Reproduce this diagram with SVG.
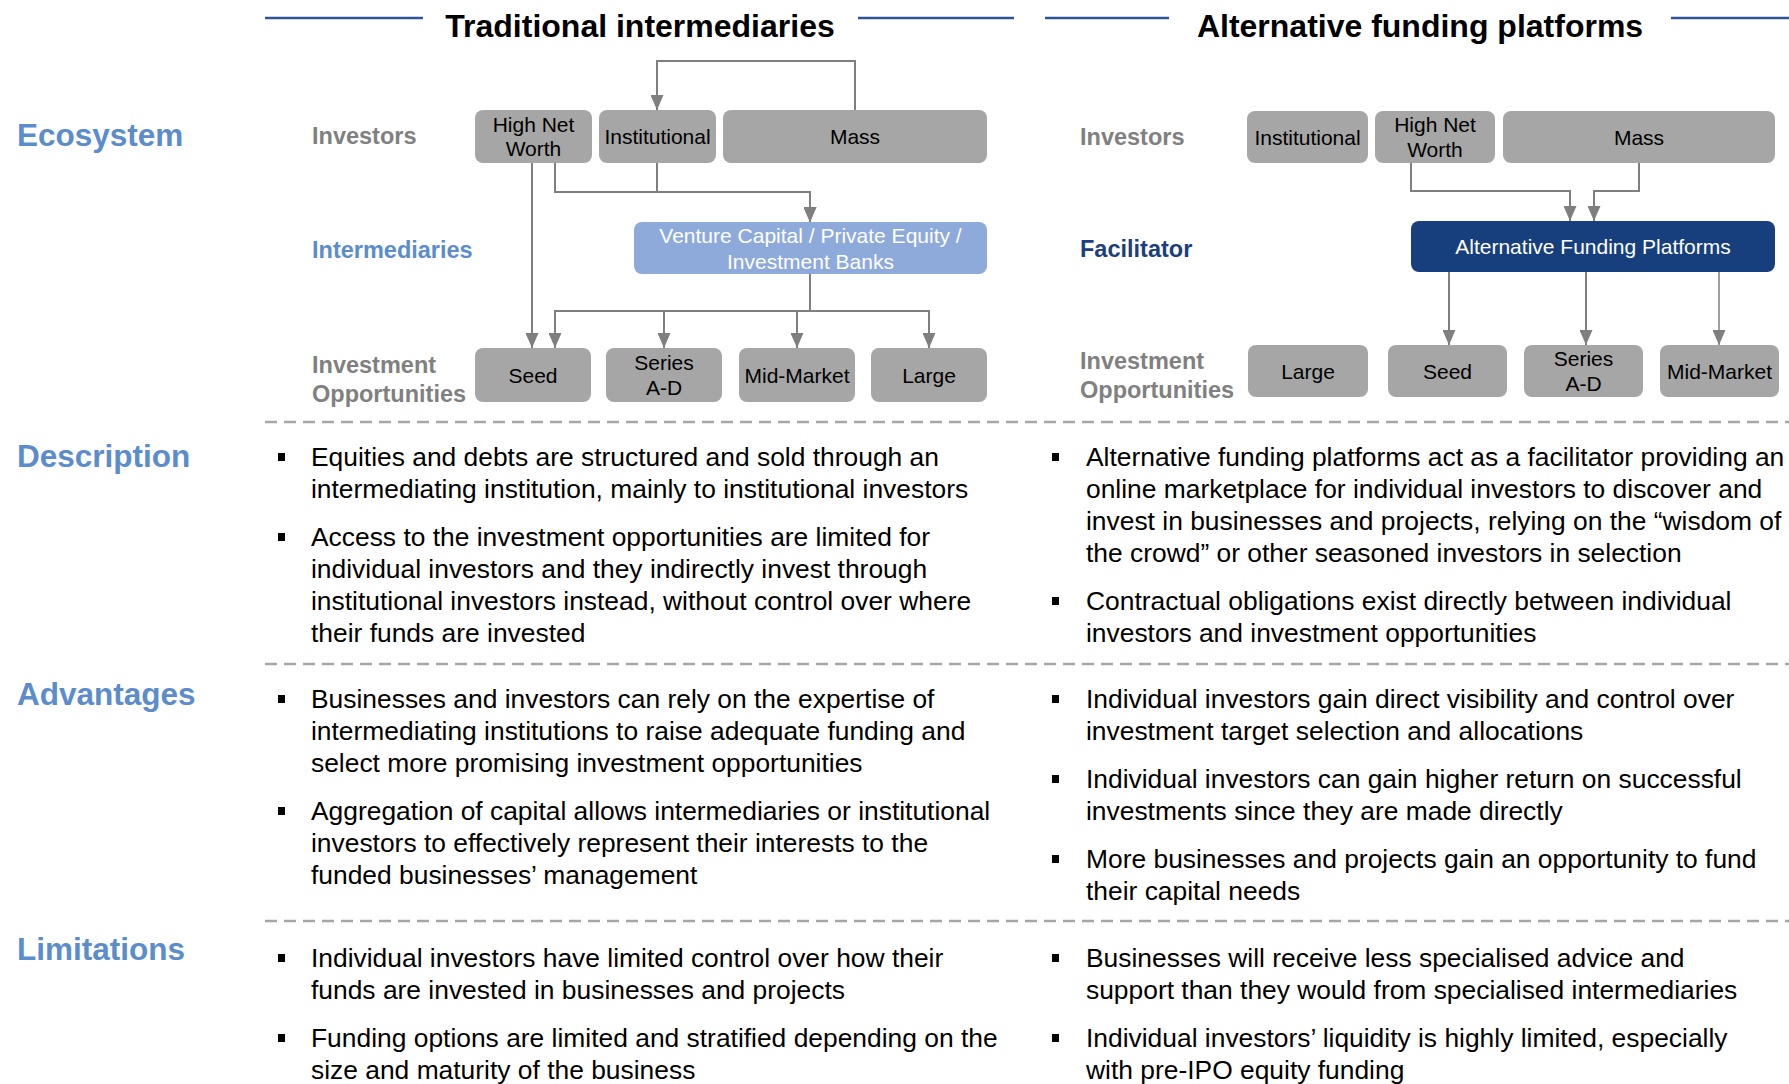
<svg xmlns="http://www.w3.org/2000/svg" width="1789" height="1084" viewBox="0 0 1789 1084">
<style>
  .title{font-family:"Liberation Sans",Arial,sans-serif;font-weight:bold;font-size:32px;fill:#000;text-anchor:middle}
  .sec{font-family:"Liberation Sans",Arial,sans-serif;font-weight:bold;font-size:31.5px;fill:#5B8CCB}
  .lab{font-family:"Liberation Sans",Arial,sans-serif;font-weight:bold;font-size:23.5px;fill:#808080}
  .labb{font-family:"Liberation Sans",Arial,sans-serif;font-weight:bold;font-size:23.5px;fill:#5B8CCB}
  .labd{font-family:"Liberation Sans",Arial,sans-serif;font-weight:bold;font-size:23.5px;fill:#1B3F7E}
  .box{fill:#A6A6A6}
  .bt{font-family:"Liberation Sans",Arial,sans-serif;font-size:21px;fill:#000;text-anchor:middle}
  .btw{font-family:"Liberation Sans",Arial,sans-serif;font-size:21px;fill:#fff;text-anchor:middle}
  .body{font-family:"Liberation Sans",Arial,sans-serif;font-size:26.4px;fill:#000}
  .blt{fill:#000}
  .conn{fill:none;stroke:#7F7F7F;stroke-width:2;marker-end:url(#arr)}
  .dash{stroke:#A6A6A6;stroke-width:2.5;stroke-dasharray:12 7}
  .hl{stroke:#2F5597;stroke-width:2.5}
</style>
<defs>
  <marker id="arr" markerUnits="userSpaceOnUse" markerWidth="15" markerHeight="13" refX="15" refY="6.5" orient="auto">
    <path d="M0,0 L15,6.5 L0,13 z" fill="#7F7F7F"/>
  </marker>
</defs>
<rect width="1789" height="1084" fill="#fff"/>

<!-- column headers -->
<g id="header-traditional">
  <line class="hl" x1="265" y1="18" x2="423" y2="18"/>
  <line class="hl" x1="858" y1="18" x2="1014" y2="18"/>
  <text class="title" x="640" y="37">Traditional intermediaries</text>
</g>
<g id="header-alternative">
  <line class="hl" x1="1045" y1="18" x2="1169" y2="18"/>
  <line class="hl" x1="1671" y1="18" x2="1789" y2="18"/>
  <text class="title" x="1420" y="37">Alternative funding platforms</text>
</g>

<!-- section headings -->
<g id="sections">
  <text class="sec" x="17" y="146">Ecosystem</text>
  <text class="sec" x="17" y="467">Description</text>
  <text class="sec" x="17" y="705">Advantages</text>
  <text class="sec" x="17" y="960">Limitations</text>
</g>

<!-- row labels -->
<g id="row-labels-left">
  <text class="lab" x="312" y="144">Investors</text>
  <text class="labb" x="312" y="258">Intermediaries</text>
  <text class="lab" x="312" y="373">Investment</text>
  <text class="lab" x="312" y="402">Opportunities</text>
</g>
<g id="row-labels-right">
  <text class="lab" x="1080" y="145">Investors</text>
  <text class="labd" x="1080" y="257">Facilitator</text>
  <text class="lab" x="1080" y="369">Investment</text>
  <text class="lab" x="1080" y="398">Opportunities</text>
</g>

<!-- connectors -->
<g id="connectors">
  <path class="conn" d="M855,110 V61 H657 V110"/>
  <path class="conn" d="M532,163 V348"/>
  <path class="conn" d="M555,163 V192 H810 V222"/>
  <path class="conn" d="M657,163 V192 H810 V222"/>
  <path class="conn" d="M810,274 V311 H555 V348"/>
  <path class="conn" d="M810,274 V311 H664 V348"/>
  <path class="conn" d="M810,274 V311 H797 V348"/>
  <path class="conn" d="M810,274 V311 H929 V348"/>
  <path class="conn" d="M1411,163 V191 H1570 V221"/>
  <path class="conn" d="M1639,163 V191 H1594 V221"/>
  <path class="conn" d="M1449,272 V345"/>
  <path class="conn" d="M1586,272 V345"/>
  <path class="conn" d="M1719,272 V345" style="stroke-width:1.5"/>
</g>

<!-- traditional nodes -->
<g id="t-hnw"><rect class="box" x="475" y="110" width="117" height="53" rx="8"/><text class="bt" x="533.5" y="132">High Net</text><text class="bt" x="533.5" y="156">Worth</text></g>
<g id="t-inst"><rect class="box" x="599" y="110" width="117" height="53" rx="8"/><text class="bt" x="657.5" y="144">Institutional</text></g>
<g id="t-mass"><rect class="box" x="723" y="110" width="264" height="53" rx="8"/><text class="bt" x="855" y="144">Mass</text></g>
<g id="t-vc"><rect x="634" y="222" width="353" height="52" rx="8" fill="#8EAADB"/><text class="btw" x="810.5" y="243">Venture Capital / Private Equity /</text><text class="btw" x="810.5" y="269">Investment Banks</text></g>
<g id="t-seed"><rect class="box" x="475" y="348" width="116" height="54" rx="8"/><text class="bt" x="533" y="383">Seed</text></g>
<g id="t-series"><rect class="box" x="606" y="348" width="116" height="54" rx="8"/><text class="bt" x="664" y="370">Series</text><text class="bt" x="664" y="395">A-D</text></g>
<g id="t-mid"><rect class="box" x="739" y="348" width="116" height="54" rx="8"/><text class="bt" x="797" y="383">Mid-Market</text></g>
<g id="t-large"><rect class="box" x="871" y="348" width="116" height="54" rx="8"/><text class="bt" x="929" y="383">Large</text></g>

<!-- alternative nodes -->
<g id="a-inst"><rect class="box" x="1247" y="111" width="121" height="52" rx="8"/><text class="bt" x="1307.5" y="145">Institutional</text></g>
<g id="a-hnw"><rect class="box" x="1375" y="111" width="120" height="52" rx="8"/><text class="bt" x="1435" y="132">High Net</text><text class="bt" x="1435" y="157">Worth</text></g>
<g id="a-mass"><rect class="box" x="1503" y="111" width="272" height="52" rx="8"/><text class="bt" x="1639" y="145">Mass</text></g>
<g id="a-afp"><rect x="1411" y="221" width="364" height="51" rx="8" fill="#173F7D"/><text class="btw" x="1593" y="254">Alternative Funding Platforms</text></g>
<g id="a-large"><rect class="box" x="1248" y="345" width="120" height="52" rx="8"/><text class="bt" x="1308" y="379">Large</text></g>
<g id="a-seed"><rect class="box" x="1388" y="345" width="119" height="52" rx="8"/><text class="bt" x="1447.5" y="379">Seed</text></g>
<g id="a-series"><rect class="box" x="1524" y="345" width="119" height="52" rx="8"/><text class="bt" x="1583.5" y="366">Series</text><text class="bt" x="1583.5" y="391">A-D</text></g>
<g id="a-mid"><rect class="box" x="1660" y="345" width="119" height="52" rx="8"/><text class="bt" x="1719.5" y="379">Mid-Market</text></g>

<!-- separators -->
<g id="separators">
  <line class="dash" x1="265" y1="422" x2="1789" y2="422"/>
  <line class="dash" x1="265" y1="664" x2="1789" y2="664"/>
  <line class="dash" x1="265" y1="921" x2="1789" y2="921"/>
</g>

<!-- description -->
<g id="desc-left">
  <rect class="blt" x="278" y="453" width="7" height="8"/>
  <text class="body" x="311" y="466">Equities and debts are structured and sold through an</text>
  <text class="body" x="311" y="498">intermediating institution, mainly to institutional investors</text>
  <rect class="blt" x="278" y="533" width="7" height="8"/>
  <text class="body" x="311" y="546">Access to the investment opportunities are limited for</text>
  <text class="body" x="311" y="578">individual investors and they indirectly invest through</text>
  <text class="body" x="311" y="610">institutional investors instead, without control over where</text>
  <text class="body" x="311" y="642">their funds are invested</text>
</g>
<g id="desc-right">
  <rect class="blt" x="1052" y="453" width="7" height="8"/>
  <text class="body" x="1086" y="466">Alternative funding platforms act as a facilitator providing an</text>
  <text class="body" x="1086" y="498">online marketplace for individual investors to discover and</text>
  <text class="body" x="1086" y="530">invest in businesses and projects, relying on the “wisdom of</text>
  <text class="body" x="1086" y="562">the crowd” or other seasoned investors in selection</text>
  <rect class="blt" x="1052" y="597" width="7" height="8"/>
  <text class="body" x="1086" y="610">Contractual obligations exist directly between individual</text>
  <text class="body" x="1086" y="642">investors and investment opportunities</text>
</g>

<!-- advantages -->
<g id="adv-left">
  <rect class="blt" x="278" y="695" width="7" height="8"/>
  <text class="body" x="311" y="708">Businesses and investors can rely on the expertise of</text>
  <text class="body" x="311" y="740">intermediating institutions to raise adequate funding and</text>
  <text class="body" x="311" y="772">select more promising investment opportunities</text>
  <rect class="blt" x="278" y="807" width="7" height="8"/>
  <text class="body" x="311" y="820">Aggregation of capital allows intermediaries or institutional</text>
  <text class="body" x="311" y="852">investors to effectively represent their interests to the</text>
  <text class="body" x="311" y="884">funded businesses’ management</text>
</g>
<g id="adv-right">
  <rect class="blt" x="1052" y="695" width="7" height="8"/>
  <text class="body" x="1086" y="708">Individual investors gain direct visibility and control over</text>
  <text class="body" x="1086" y="740">investment target selection and allocations</text>
  <rect class="blt" x="1052" y="775" width="7" height="8"/>
  <text class="body" x="1086" y="788">Individual investors can gain higher return on successful</text>
  <text class="body" x="1086" y="820">investments since they are made directly</text>
  <rect class="blt" x="1052" y="855" width="7" height="8"/>
  <text class="body" x="1086" y="868">More businesses and projects gain an opportunity to fund</text>
  <text class="body" x="1086" y="900">their capital needs</text>
</g>

<!-- limitations -->
<g id="lim-left">
  <rect class="blt" x="278" y="954" width="7" height="8"/>
  <text class="body" x="311" y="967">Individual investors have limited control over how their</text>
  <text class="body" x="311" y="999">funds are invested in businesses and projects</text>
  <rect class="blt" x="278" y="1034" width="7" height="8"/>
  <text class="body" x="311" y="1047">Funding options are limited and stratified depending on the</text>
  <text class="body" x="311" y="1079">size and maturity of the business</text>
</g>
<g id="lim-right">
  <rect class="blt" x="1052" y="954" width="7" height="8"/>
  <text class="body" x="1086" y="967">Businesses will receive less specialised advice and</text>
  <text class="body" x="1086" y="999">support than they would from specialised intermediaries</text>
  <rect class="blt" x="1052" y="1034" width="7" height="8"/>
  <text class="body" x="1086" y="1047">Individual investors’ liquidity is highly limited, especially</text>
  <text class="body" x="1086" y="1079">with pre-IPO equity funding</text>
</g>
</svg>
